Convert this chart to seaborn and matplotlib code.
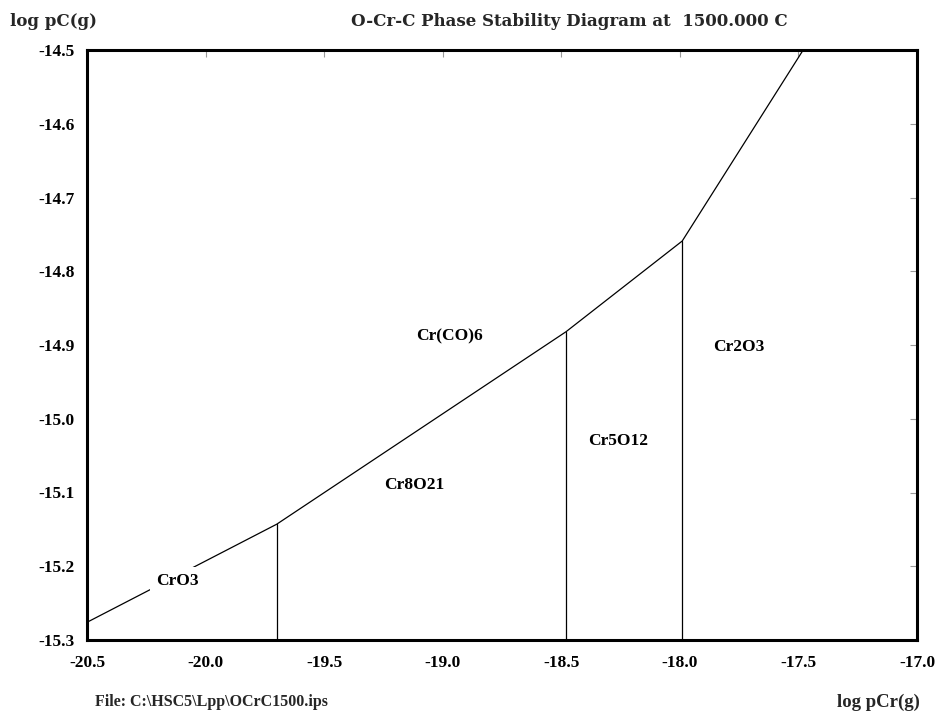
import matplotlib
matplotlib.use("Agg")
import matplotlib.pyplot as plt
import seaborn as sns
import pandas as pd

# ---- data ----
boundary_x = [-20.5, -19.70, -18.48, -17.99, -17.48]
boundary_y = [-15.276, -15.143, -14.882, -14.759, -14.5]
vertical_x = [-19.70, -18.48, -17.99]
vertical_top = [-15.143, -14.882, -14.759]
y_bottom = -15.3

region_names = ["CrO3", "Cr8O21", "Cr(CO)6", "Cr5O12", "Cr2O3"]
region_x = [-20.12, -19.12, -18.97, -18.26, -17.75]
region_y = [-15.22, -15.09, -14.888, -15.03, -14.903]

x_ticks = [-20.5, -20.0, -19.5, -19.0, -18.5, -18.0, -17.5, -17.0]
y_ticks = [-14.5, -14.6, -14.7, -14.8, -14.9, -15.0, -15.1, -15.2, -15.3]

title = "O-Cr-C Phase Stability Diagram at  1500.000 C"
y_label = "log pC(g)"
x_label = "log pCr(g)"
file_label = "File: C:\\HSC5\\Lpp\\OCrC1500.ips"

# ---- style ----
sns.set_theme(style="white")
plt.rcParams["font.family"] = ["Liberation Serif", "DejaVu Serif"]
plt.rcParams["font.weight"] = "bold"

fig = plt.figure(figsize=(9.42, 7.11), dpi=100)
ax = fig.add_axes([87 / 942, 71 / 711, 830 / 942, 590 / 711])

df_b = pd.DataFrame({"x": boundary_x, "y": boundary_y})
sns.lineplot(data=df_b, x="x", y="y", color="black", linewidth=0.9,
             sort=False, estimator=None, ax=ax, zorder=2)
for vx, vt in zip(vertical_x, vertical_top):
    df_v = pd.DataFrame({"x": [vx, vx], "y": [y_bottom, vt]})
    sns.lineplot(data=df_v, x="x", y="y", color="black", linewidth=0.9,
                 sort=False, estimator=None, ax=ax, zorder=2)

for name, lx, ly in zip(region_names, region_x, region_y):
    kw = {}
    if name == "CrO3":
        kw["bbox"] = dict(boxstyle="square,pad=0.35", fc="white", ec="none")
    ax.text(lx, ly, name, ha="center", va="center", fontsize=12.5,
            fontweight="bold", color="black", zorder=3, **kw)

ax.set_xlim(-20.5, -17.0)
ax.set_ylim(-15.3, -14.5)
ax.set_xticks(x_ticks)
ax.set_yticks(y_ticks)
ax.set_xticklabels([f"{v:.1f}" for v in x_ticks])
ax.set_yticklabels([f"{v:.1f}" for v in y_ticks])
ax.set_xlabel("")
ax.set_ylabel("")
ax.tick_params(axis="both", which="major", direction="in", length=5,
               width=0.8, color="#999999", labelsize=12.5,
               top=True, right=True, labelcolor="black")
ax.tick_params(axis="x", pad=11)
ax.tick_params(axis="y", pad=9)
for lab in ax.get_xticklabels() + ax.get_yticklabels():
    lab.set_fontweight("bold")
for sp in ax.spines.values():
    sp.set_visible(True)
    sp.set_color("black")
    sp.set_linewidth(2.2)
ax.grid(False)

head_font = ["DejaVu Serif"]
fig.text(788 / 942, 1 - 22 / 711, title, ha="right", va="center",
         fontsize=12, fontweight="bold", family=head_font)
fig.text(10 / 942, 1 - 22 / 711, y_label, ha="left", va="center",
         fontsize=12, fontweight="bold", family=head_font)
fig.text(95 / 942, 1 - 702 / 711, file_label, ha="left", va="center",
         fontsize=11.5, fontweight="bold")
fig.text(920 / 942, 1 - 702 / 711, x_label, ha="right", va="center",
         fontsize=13.5, fontweight="bold")

fig.savefig("out.png", dpi=100)
